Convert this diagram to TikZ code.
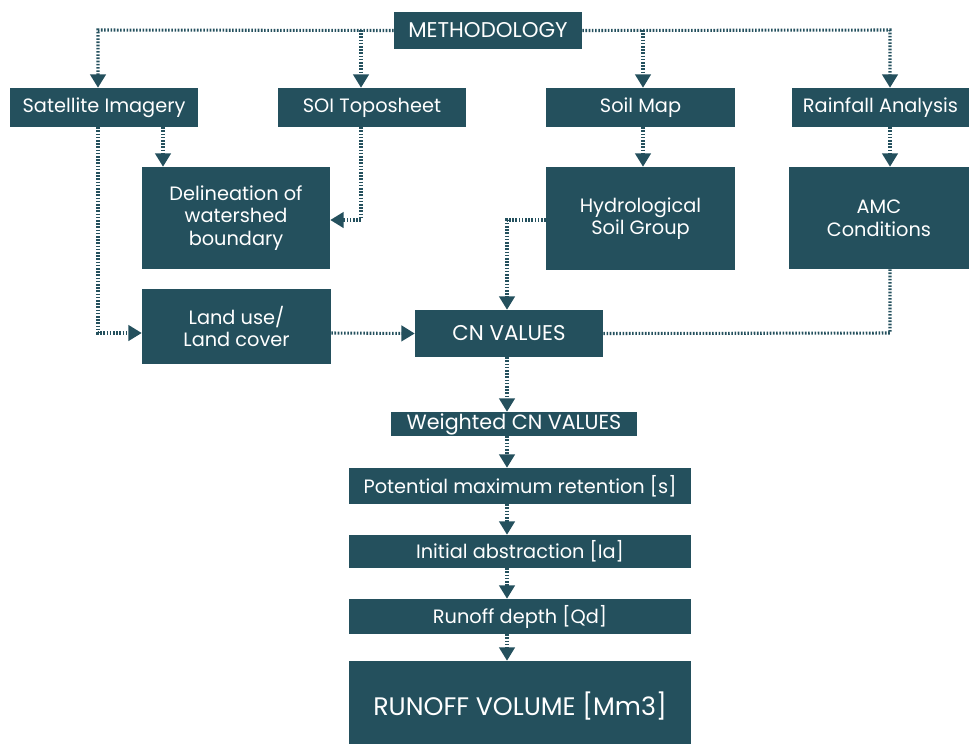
\documentclass[tikz,border=0pt]{standalone}
\usepackage{fontspec}
\setmainfont{Poppins}
\usetikzlibrary{arrows.meta}
\definecolor{teal}{HTML}{24505D}
\begin{document}
\begin{tikzpicture}[x=0.75pt,y=-0.75pt,
  box/.style={fill=teal, draw=none, text=white, inner sep=0pt, align=center, font=\fontsize{14.5}{17}\selectfont},
  capsbox/.style={box, font=\fontsize{16}{19}\selectfont},
  conn/.style={draw=teal, line width=2.3pt, dash pattern=on 1.2pt off 1.2pt},
  arr/.style={conn, -{Triangle[width=11.5pt,length=10pt,fill=teal]}}]
\useasboundingbox (0,0) rectangle (969,743);
\node[capsbox, minimum width=188*0.75pt, minimum height=37*0.75pt] (meth) at (488,30.5) {METHODOLOGY};
\node[box, minimum width=188*0.75pt, minimum height=39*0.75pt] (sat) at (104,107.5) {Satellite Imagery};
\node[box, minimum width=188*0.75pt, minimum height=39*0.75pt] (soi) at (372,107.5) {SOI Toposheet};
\node[box, minimum width=189*0.75pt, minimum height=39*0.75pt] (soil) at (640.5,107.5) {Soil Map};
\node[box, minimum width=177*0.75pt, minimum height=39*0.75pt] (rain) at (880.5,107.5) {Rainfall Analysis};
\node[box, minimum width=188*0.75pt, minimum height=102*0.75pt] (del) at (236,218) {Delineation of\\watershed\\boundary};
\node[box, minimum width=189*0.75pt, minimum height=103*0.75pt] (hyd) at (640.5,218.5) {Hydrological\\Soil Group};
\node[box, minimum width=180*0.75pt, minimum height=102*0.75pt] (amc) at (879,218) {AMC\\Conditions};
\node[box, minimum width=189*0.75pt, minimum height=75*0.75pt] (land) at (236.5,326.5) {Land use/\\Land cover};
\node[capsbox, minimum width=188*0.75pt, minimum height=47*0.75pt] (cn) at (509,333.5) {CN VALUES};
\node[box, minimum width=246*0.75pt, minimum height=24*0.75pt, font=\fontsize{15.5}{18}\selectfont] (wcn) at (514,424) {Weighted CN VALUES};
\node[box, minimum width=342*0.75pt, minimum height=36*0.75pt] (pot) at (520,486) {Potential maximum retention [s]};
\node[box, minimum width=342*0.75pt, minimum height=33*0.75pt] (ini) at (520,551.5) {Initial abstraction [Ia]};
\node[box, minimum width=342*0.75pt, minimum height=35*0.75pt] (run) at (520,616.5) {Runoff depth [Qd]};
\node[box, minimum width=342*0.75pt, minimum height=90*0.75pt, font=\fontsize{19}{22}\selectfont] (vol) at (520,706) {RUNOFF VOLUME [Mm3]};
% junction points
\coordinate (jl) at (98,30);
\coordinate (jr) at (890,30);
\coordinate (js) at (361,30);
\coordinate (jm) at (643,30);
\coordinate (jd) at (361,220);
\coordinate (jlu) at (98,333);
\coordinate (jh) at (507,220);
\coordinate (ja) at (890,333);
% connectors
\draw[arr] (meth.west) -- (jl) -- (sat.north -| jl);
\draw[arr] (js) -- (soi.north -| js);
\draw[arr] (meth.east) -- (jr) -- (rain.north -| jr);
\draw[arr] (jm) -- (soil.north -| jm);
\draw[arr] (sat.south -| 163,0) -- (del.north -| 163,0);
\draw[arr] (soi.south -| jd) -- (jd) -- (del.east |- jd);
\draw[arr] (sat.south -| jl) -- (jlu) -- (land.west |- jlu);
\draw[arr] (land.east |- jlu) -- (cn.west);
\draw[arr] (hyd.west |- jh) -- (jh) -- (cn.north -| jh);
\draw[conn] (amc.south -| ja) -- (ja) -- (cn.east);
\draw[arr] (soil.south -| jm) -- (hyd.north -| jm);
\draw[arr] (rain.south -| jr) -- (amc.north -| jr);
\draw[arr] (cn.south -| jh) -- (wcn.north -| jh);
\draw[arr] (wcn.south -| jh) -- (pot.north -| jh);
\draw[arr] (pot.south -| jh) -- (ini.north -| jh);
\draw[arr] (ini.south -| jh) -- (run.north -| jh);
\draw[arr] (run.south -| jh) -- (vol.north -| jh);
\end{tikzpicture}
\end{document}
